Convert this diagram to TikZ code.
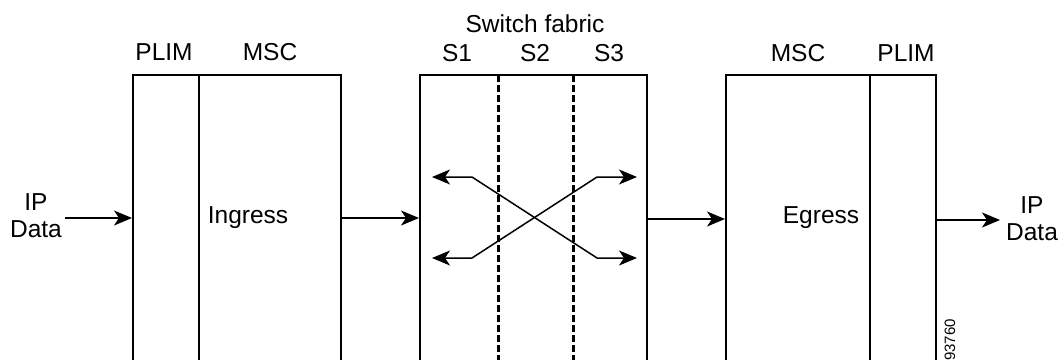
\documentclass[tikz,border=0pt]{standalone}
\usepackage{fontspec}
\setmainfont{Liberation Sans}
\usetikzlibrary{arrows.meta}
\begin{document}
\begin{tikzpicture}[x=1pt,y=-1pt,
  box/.style={draw, line width=2pt, inner sep=0pt, minimum height=290pt},
  lbl/.style={font=\fontsize{24.5}{27}\selectfont, inner sep=0pt, anchor=center},
  sep/.style={line width=3pt, dash pattern=on 6.5pt off 3.5pt},
  flow/.style={line width=1.8pt, -{Stealth[length=18pt,width=15pt,inset=5pt]}},
  xarr/.style={line width=1.5pt, {Stealth[length=18pt,width=15pt,inset=5pt]}-{Stealth[length=18pt,width=15pt,inset=5pt]}}]
\useasboundingbox (0,0) rectangle (1060,359);
\clip (0,0) rectangle (1060,359);
% boxes
\node[box, minimum width=66pt]  (inplim) at (166,220) {};
\node[box, minimum width=142pt] (inmsc)  at (270,220) {};
\node[box, minimum width=227pt] (fab)    at (533.5,220) {};
\node[box, minimum width=144pt] (egmsc)  at (798,220) {};
\node[box, minimum width=66pt]  (egplim) at (903,220) {};
% dashed separators
\draw[sep] (498,75) -- (498,365);
\draw[sep] (573,75) -- (573,365);
% labels
\node[lbl] (lplim1) at (164,52) {PLIM};
\node[lbl] (lmsc1)  at (270,52) {MSC};
\node[lbl] (lsf)    at (535,24) {Switch fabric};
\node[lbl] (ls1)    at (457,53) {S1};
\node[lbl] (ls2)    at (535,53) {S2};
\node[lbl] (ls3)    at (609,53) {S3};
\node[lbl] (lmsc2)  at (798,53) {MSC};
\node[lbl] (lplim2) at (906,53) {PLIM};
\node[lbl] (ingress) at (248,218) {Ingress};
\node[lbl] (egress)  at (821,218) {Egress};
\node[lbl, align=center] (ipin)  at (36,216) {IP\\Data};
\node[lbl, align=center] (ipout) at (1032,219) {IP\\Data};
\node[font=\fontsize{15}{17}\selectfont, rotate=90, inner sep=0pt] (fig) at (950,340) {93760};
% flows
\coordinate (inA) at (65,218);
\draw[flow] (inA) -- (inA -| inplim.west);
\draw[flow] (inmsc.east |- 0,218) -- (fab.west |- 0,218);
\draw[flow] (fab.east |- 0,219) -- (egmsc.west |- 0,219);
\coordinate (outB) at (1000,220);
\draw[flow] (egplim.east |- outB) -- (outB);
% crossing paths in the fabric
\coordinate (ul) at (432,177);
\coordinate (ur) at (637,177);
\coordinate (ll) at (432,258);
\coordinate (lr) at (637,258);
\draw[xarr] (ul) -- (472,177) -- (597,258) -- (lr);
\draw[xarr] (ll) -- (472,258) -- (597,177) -- (ur);
\end{tikzpicture}
\end{document}
